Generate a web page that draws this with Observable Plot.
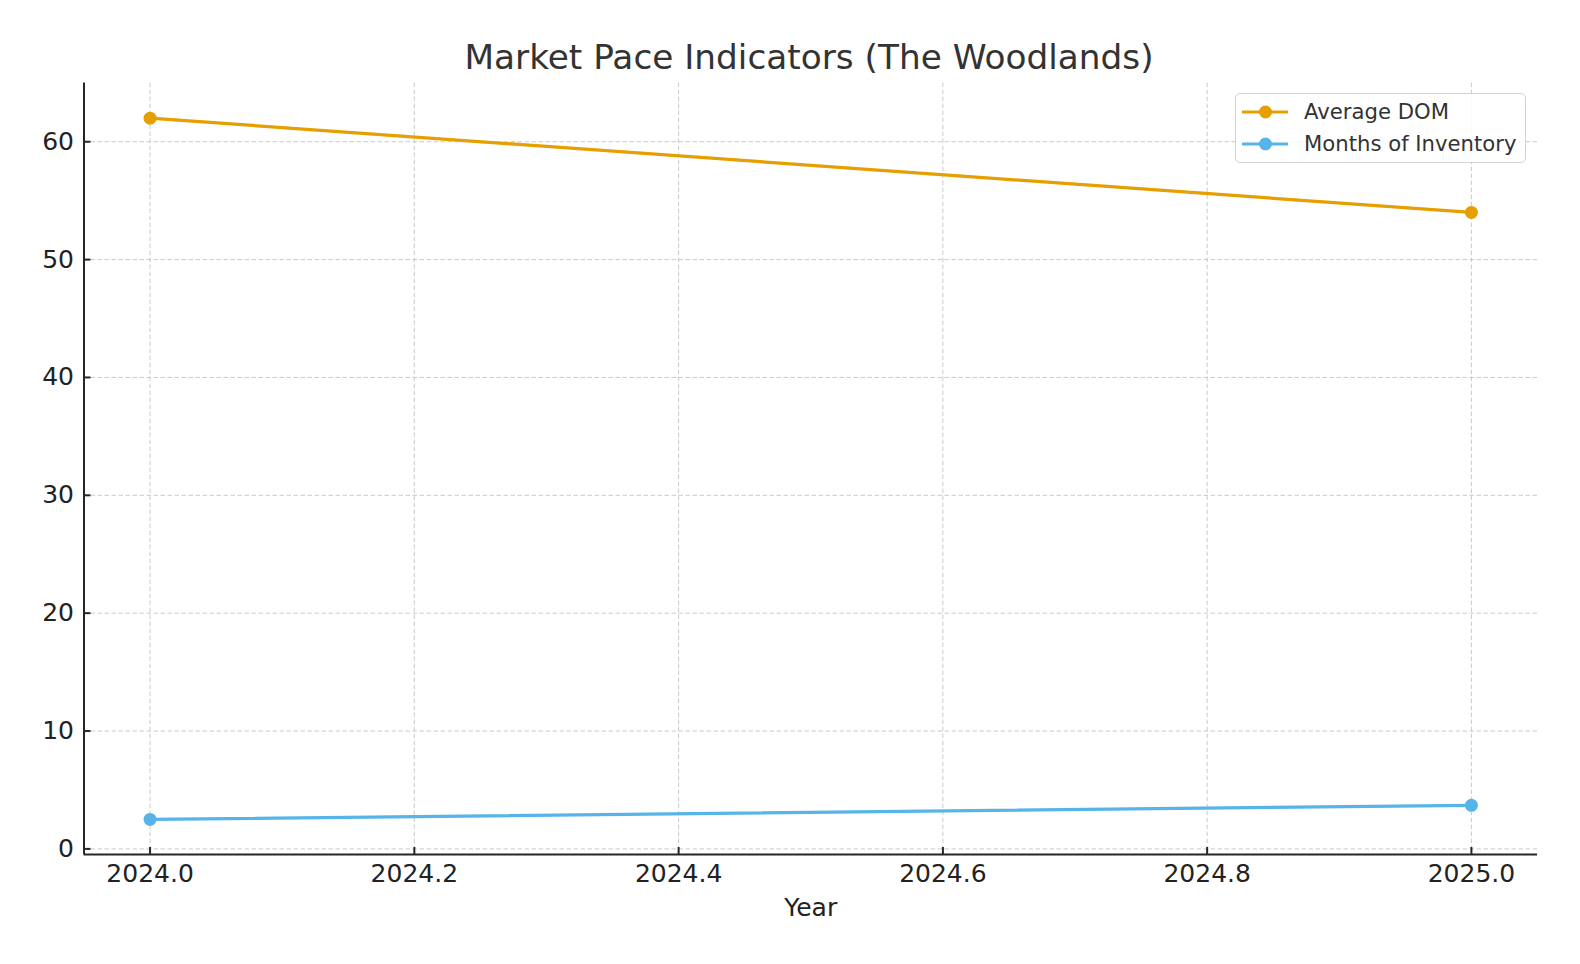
<!DOCTYPE html>
<html>
<head>
<meta charset="utf-8">
<script src="https://cdn.jsdelivr.net/npm/d3@7"></script>
<script src="https://cdn.jsdelivr.net/npm/@observablehq/plot@0.6"></script>
<style>
  html, body { margin: 0; padding: 0; background: #fff; }
  #wrap { position: relative; width: 1580px; height: 964px; font-family: "DejaVu Sans", sans-serif; }
  #title { box-sizing: border-box; height: 77px; padding-top: 37px; line-height: 40px; font-size: 34.3px; color: #333; text-align: center; width: 1580px; padding-left: 38px; }
  #legend { position: absolute; left: 1235px; top: 93px; width: 291px; height: 70px; border: 1.5px solid #d2d2d2; border-radius: 5px; background: rgba(255,255,255,0.85); box-sizing: border-box; }
  .row { position: absolute; left: 0; height: 32px; }
  .row span { position: absolute; left: 68px; top: 0; white-space: nowrap; font-size: 21.2px; color: #333; line-height: 32px; }
  .row svg { position: absolute; left: 6px; top: 0; }
</style>
</head>
<body>
<div id="wrap">
  <div id="title">Market Pace Indicators (The Woodlands)</div>
  <div id="chart"></div>
  <div id="legend"></div>
</div>
<script>
const years = [2024, 2025];
const averageDOM = [62, 54];
const monthsOfInventory = [2.5, 3.7];
const seriesNames = ["Average DOM", "Months of Inventory"];
const seriesColors = ["#E69F00", "#56B4E9"];
const xTicks = [2024.0, 2024.2, 2024.4, 2024.6, 2024.8, 2025.0];
const yTicks = [0, 10, 20, 30, 40, 50, 60];
const xDomain = [2023.95, 2025.05];
const yDomain = [-0.475, 64.975];
const xLabel = "Year";

const rows = [];
years.forEach((yr, i) => {
  rows.push({year: yr, value: averageDOM[i], series: seriesNames[0]});
  rows.push({year: yr, value: monthsOfInventory[i], series: seriesNames[1]});
});

const font = "DejaVu Sans, sans-serif";
const spine = "#262626";
const W = 1580, H = 887, mL = 83.5, mR = 43, mT = 5.6, mB = 110;
const tickLen = 7;
const plotW = W - mL - mR, plotH = H - mT - mB;

const plot = Plot.plot({
  width: W,
  height: H,
  marginLeft: mL,
  marginRight: mR,
  marginTop: mT,
  marginBottom: mB,
  style: {fontFamily: font, fontSize: "25px", color: "#222", background: "white"},
  x: {domain: xDomain, ticks: xTicks, label: null},
  y: {domain: yDomain, ticks: yTicks, label: null},
  color: {domain: seriesNames, range: seriesColors},
  marks: [
    Plot.gridX(xTicks, {stroke: "#bdbdbd", strokeOpacity: 0.8, strokeWidth: 1, strokeDasharray: "4.5,2.5"}),
    Plot.gridY(yTicks, {stroke: "#bdbdbd", strokeOpacity: 0.8, strokeWidth: 1, strokeDasharray: "4.5,2.5"}),
    Plot.axisX(xTicks, {tickSize: 0, tickPadding: 10, tickFormat: d3.format(".1f"), fontSize: 25, fill: "#222", label: null}),
    Plot.axisY(yTicks, {tickSize: 0, tickPadding: 10, tickFormat: d3.format("d"), fontSize: 25, fill: "#222", label: null}),
    Plot.ruleX(xTicks, {insetTop: plotH - tickLen, stroke: spine, strokeWidth: 2}),
    Plot.ruleY(yTicks, {insetRight: plotW - tickLen, stroke: spine, strokeWidth: 2}),
    Plot.ruleX([xDomain[0]], {stroke: spine, strokeWidth: 2}),
    Plot.ruleY([yDomain[0]], {stroke: spine, strokeWidth: 2}),
    Plot.line(rows, {x: "year", y: "value", z: "series", stroke: "series", strokeWidth: 3.2}),
    Plot.dot(rows, {x: "year", y: "value", fill: "series", r: 6.5}),
    Plot.text([xLabel], {frameAnchor: "bottom", dy: 53, fontSize: 25, fill: "#222", lineAnchor: "middle"})
  ]
});
document.getElementById("chart").appendChild(plot);

const legend = document.getElementById("legend");
seriesNames.forEach((name, i) => {
  const row = document.createElement("div");
  row.className = "row";
  row.style.top = (2 + i * 32.3) + "px";
  row.style.width = "100%";
  row.innerHTML = `<svg width="48" height="32"><line x1="0" y1="16" x2="46" y2="16" stroke="${seriesColors[i]}" stroke-width="3"/><circle cx="23.5" cy="16" r="6.5" fill="${seriesColors[i]}"/></svg><span>${name}</span>`;
  legend.appendChild(row);
});
</script>
</body>
</html>
